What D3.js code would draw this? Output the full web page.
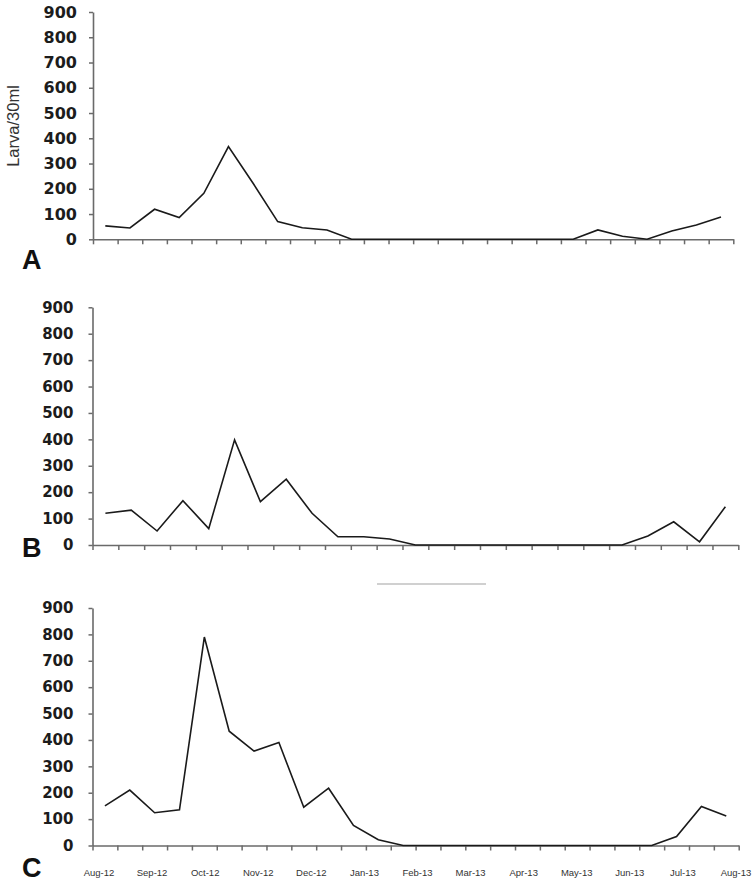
<!DOCTYPE html>
<html>
<head>
<meta charset="utf-8">
<script src="https://cdn.jsdelivr.net/npm/d3@7"></script>
<style>
  html, body { margin: 0; padding: 0; background: #fff; }
  svg { display: block; }
</style>
</head>
<body>
<svg id="chart" width="755" height="884"></svg>
<script>
// ---- data ----
const monthLabels = ["Aug-12","Sep-12","Oct-12","Nov-12","Dec-12","Jan-13","Feb-13","Mar-13","Apr-13","May-13","Jun-13","Jul-13","Aug-13"];
const yTicks = [0,100,200,300,400,500,600,700,800,900];
const panelLetters = ["A","B","C"];
const seriesA = [53,45,119,86,182,367,222,70,46,37,0,0,0,0,0,0,0,0,0,0,37,12,0,33,57,88];
const seriesB = [120,132,53,168,62,398,164,249,120,31,31,23,0,0,0,0,0,0,0,0,0,34,88,12,145];
const seriesC = [150,210,124,135,790,433,358,390,145,217,76,22,0,0,0,0,0,0,0,0,0,0,0,34,148,112];
const yLabel = "Larva/30ml";

// ---- layout ----
const svg = d3.select("#chart");
const panels = [
  {data: seriesA, left: 93,   right: 733.3, top: 12,    bottom: 239.3, fs: 16, pad: 12, letterY: 269},
  {data: seriesB, left: 92.5, right: 738.3, top: 307.3, bottom: 545,   fs: 15, pad: 15, letterY: 557},
  {data: seriesC, left: 92.5, right: 738.7, top: 608,   bottom: 845.5, fs: 15, pad: 15, letterY: 877}
];

panels.forEach((p, k) => {
  const n = p.data.length;
  const x = d3.scaleLinear().domain([0, n]).range([p.left, p.right]);
  const y = d3.scaleLinear().domain([0, 900]).range([p.bottom, p.top]);
  const g = svg.append("g");

  // x axis (tick marks between categories)
  const xa = g.append("g")
    .attr("transform", `translate(0,${p.bottom})`)
    .call(d3.axisBottom(x).tickValues(d3.range(0, n + 1)).tickFormat("").tickSize(5).tickSizeOuter(0));
  xa.select(".domain").attr("stroke", "#6a6a6a").attr("stroke-width", 1.6);
  xa.selectAll(".tick line").attr("stroke", "#6a6a6a").attr("stroke-width", 1.5);

  // y axis
  const ya = g.append("g")
    .attr("transform", `translate(${p.left},0)`)
    .call(d3.axisLeft(y).tickValues(yTicks).tickSize(4).tickSizeOuter(0).tickPadding(p.pad));
  ya.select(".domain").attr("stroke", "#6a6a6a").attr("stroke-width", 1.6);
  ya.selectAll(".tick line").attr("stroke", "#6a6a6a").attr("stroke-width", 1.5);
  ya.selectAll(".tick text")
    .attr("font-family", "DejaVu Sans, sans-serif")
    .attr("font-weight", "bold")
    .attr("font-size", p.fs)
    .attr("fill", "#1c1c1c");

  // data line
  const line = d3.line().x((d, i) => x(i + 0.5)).y(d => y(d));
  g.append("path")
    .datum(p.data)
    .attr("d", line)
    .attr("fill", "none")
    .attr("stroke", "#1a1a1a")
    .attr("stroke-width", 1.6)
    .attr("stroke-linejoin", "miter");

  // panel letter
  svg.append("text")
    .attr("x", 22)
    .attr("y", p.letterY)
    .attr("font-family", "Liberation Sans, Arial, sans-serif")
    .attr("font-weight", "bold")
    .attr("font-size", 27)
    .attr("fill", "#111")
    .text(panelLetters[k]);
});

// y axis title (panel A)
svg.append("text")
  .attr("transform", "translate(19,126) rotate(-90)")
  .attr("text-anchor", "middle")
  .attr("font-family", "Liberation Sans, Arial, sans-serif")
  .attr("font-size", 16.5)
  .attr("fill", "#333")
  .text(yLabel);

// month labels under panel C
const xm = d3.scalePoint().domain(monthLabels).range([99, 736]);
svg.append("g").selectAll("text")
  .data(monthLabels)
  .join("text")
  .attr("x", d => xm(d))
  .attr("y", 876)
  .attr("text-anchor", "middle")
  .attr("font-family", "Liberation Sans, Arial, sans-serif")
  .attr("font-size", 9.5)
  .attr("fill", "#333")
  .text(d => d);

// faint separator artifact between B and C
svg.append("line")
  .attr("x1", 377).attr("x2", 486)
  .attr("y1", 584).attr("y2", 584)
  .attr("stroke", "#d0d0d0")
  .attr("stroke-width", 2);
</script>
</body>
</html>
